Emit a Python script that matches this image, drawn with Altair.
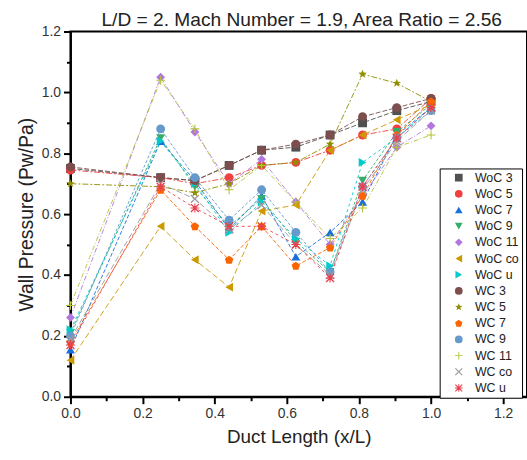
import math
import altair as alt
import pandas as pd

# ---------------- data ----------------
x_vals = [0.0, 0.25, 0.345, 0.44, 0.53, 0.625, 0.72, 0.81, 0.905, 1.0]

series_names = ["WoC 3", "WoC 5", "WoC 7", "WoC 9", "WoC 11", "WoC co", "WoC u",
                "WC 3", "WC 5", "WC 7", "WC 9", "WC 11", "WC co", "WC u"]

woc_3 = [0.75, 0.72, 0.71, 0.76, 0.81, 0.82, 0.86, 0.90, 0.94, 0.97]
woc_5 = [0.745, 0.72, 0.70, 0.72, 0.76, 0.77, 0.81, 0.86, 0.88, 0.98]
woc_7 = [0.155, 0.84, 0.71, 0.55, 0.66, 0.46, 0.54, 0.64, 0.86, 0.95]
woc_9 = [0.21, 0.85, 0.69, 0.56, 0.65, 0.51, 0.41, 0.71, 0.87, 0.96]
woc_11 = [0.26, 1.05, 0.87, 0.70, 0.78, 0.64, 0.50, 0.66, 0.82, 0.89]
woc_co = [0.12, 0.56, 0.45, 0.36, 0.61, 0.63, 0.81, 0.86, 0.91, 0.96]
woc_u = [0.22, 0.84, 0.70, 0.54, 0.64, 0.52, 0.43, 0.77, 0.85, 0.95]
wc_3 = [0.755, 0.72, 0.71, 0.76, 0.81, 0.83, 0.86, 0.92, 0.95, 0.98]
wc_5 = [0.70, 0.69, 0.67, 0.70, 0.76, 0.77, 0.83, 1.06, 1.03, 0.97]
wc_7 = [0.18, 0.68, 0.56, 0.45, 0.56, 0.43, 0.49, 0.66, 0.86, 0.97]
wc_9 = [0.20, 0.88, 0.72, 0.58, 0.68, 0.54, 0.41, 0.69, 0.85, 0.94]
wc_11 = [0.30, 1.04, 0.88, 0.68, 0.76, 0.64, 0.52, 0.62, 0.82, 0.86]
wc_co = [0.19, 0.70, 0.65, 0.55, 0.63, 0.50, 0.40, 0.68, 0.84, 0.94]
wc_u = [0.17, 0.69, 0.62, 0.56, 0.56, 0.50, 0.39, 0.69, 0.85, 0.95]

all_values = [woc_3, woc_5, woc_7, woc_9, woc_11, woc_co, woc_u,
              wc_3, wc_5, wc_7, wc_9, wc_11, wc_co, wc_u]

y_ticks = [round(i * 0.1, 1) for i in range(13)]
x_ticks = [round(i * 0.1, 1) for i in range(13)]

# ---------------- styles ----------------
colors = ["#515151", "#F14040", "#1A6FDF", "#37AD6B", "#B177DE", "#CC9900", "#00CBCC",
          "#7D4E4E", "#8E8E00", "#FB6501", "#6699CC", "#B5C43A", "#9A9A9A", "#E8414E"]


def poly(points):
    return "M" + "L".join(f"{px:.3f},{py:.3f}" for px, py in points) + "Z"


def star_path():
    pts = []
    for k in range(10):
        r = 1.0 if k % 2 == 0 else 0.42
        a = -math.pi / 2 + k * math.pi / 5
        pts.append((r * math.cos(a), r * math.sin(a)))
    return poly(pts)


def pentagon_path():
    pts = []
    for k in range(5):
        a = -math.pi / 2 + k * 2 * math.pi / 5
        pts.append((math.cos(a), math.sin(a) + 0.08))
    return poly(pts)


def plus_pts(w=0.12):
    return [(-w, -1), (w, -1), (w, -w), (1, -w), (1, w), (w, w), (w, 1), (-w, 1),
            (-w, w), (-1, w), (-1, -w), (-w, -w)]


def rotated(pts, s=1.25):
    c = math.sqrt(0.5)
    return [((px - py) * c * s, (px + py) * c * s) for px, py in pts]


plus_path = poly(plus_pts())
x_path = poly(rotated(plus_pts()))
asterisk_path = plus_path + " " + x_path

shapes = ["square", "circle", "triangle-up", "triangle-down", "diamond", "triangle-left",
          "triangle-right", "circle", star_path(), pentagon_path(), "circle",
          plus_path, x_path, asterisk_path]

dashes = [[5, 2], [6, 2, 2, 2], [4, 2], [3, 2], [5, 2, 1, 2], [6, 3], [3, 3],
          [5, 2], [6, 2, 2, 2], [4, 2], [3, 2], [5, 2, 1, 2], [6, 3], [3, 3]]

rows = []
for name, vals in zip(series_names, all_values):
    for xv, yv in zip(x_vals, vals):
        rows.append({"series": name, "x": xv, "y": yv})
df = pd.DataFrame(rows)

FONT = "Liberation Sans"
W = 460
H = 368
x_max = 1.2 * W / 436.0

x_enc = alt.X("x:Q", scale=alt.Scale(domain=[0, x_max], nice=False, zero=False),
              axis=alt.Axis(title="Duct Length (x/L)", values=x_ticks,
                            labelExpr="round(datum.value*10) % 2 == 0 ? format(datum.value, '.1f') : ''",
                            tickSize={"condition": {"test": "round(datum.value*10) % 2 == 0", "value": 7}, "value": 4},
                            labelFlush=False,
                            labelPadding=3, titlePadding=7, titleFontSize=19))
y_enc = alt.Y("y:Q", scale=alt.Scale(domain=[0, 1.2], nice=False),
              axis=alt.Axis(title="Wall Pressure (Pw/Pa)", values=y_ticks,
                            labelExpr="round(datum.value*10) % 2 == 0 ? format(datum.value, '.1f') : ''",
                            tickSize={"condition": {"test": "round(datum.value*10) % 2 == 0", "value": 7}, "value": 4},
                            labelFlush=False,
                            labelPadding=3, titlePadding=5, titleFontSize=19.5))

legend = alt.Legend(title=None, orient="none", legendX=372, legendY=138)

color_enc = alt.Color("series:N", scale=alt.Scale(domain=series_names, range=colors),
                      sort=series_names, legend=legend)
shape_enc = alt.Shape("series:N", scale=alt.Scale(domain=series_names, range=shapes),
                      sort=series_names, legend=legend)

lines = alt.Chart(df).mark_line(strokeWidth=1, opacity=0.9).encode(
    x=x_enc, y=y_enc,
    color=color_enc,
    strokeDash=alt.StrokeDash("series:N", scale=alt.Scale(domain=series_names, range=dashes),
                              legend=None),
    detail="series:N",
)

points = alt.Chart(df).mark_point(filled=True, size=80, opacity=1).encode(
    x=x_enc, y=y_enc, color=color_enc, shape=shape_enc,
)

chart = alt.layer(lines, points).properties(
    width=W, height=H,
    autosize=alt.AutoSizeParams(type="none"),
    padding={"left": 71, "top": 30, "right": 0, "bottom": 62},
    title=alt.TitleParams(text="L/D = 2. Mach Number = 1.9, Area Ratio = 2.56",
                          font=FONT, fontSize=19.3, fontWeight="normal", color="#222",
                          anchor="middle", baseline="alphabetic", offset=3, dx=3, dy=24),
).configure_view(
    stroke="black", strokeWidth=2
).configure_axis(
    labelFont=FONT, labelFontSize=14, labelColor="#333",
    titleFont=FONT, titleFontWeight="normal", titleColor="#222",
    domainColor="black", domainWidth=2, tickColor="black", tickWidth=2, grid=False,
).configure_legend(
    strokeColor="black", fillColor="white", padding=3,
    labelFont=FONT, labelFontSize=12.5, labelColor="#222",
    symbolSize=60, symbolOffset=10, labelOffset=10, rowPadding=3.3,
    symbolStrokeWidth=0, symbolOpacity=1,
)

chart.save("out.html", embed_options={"renderer": "svg", "actions": False})
